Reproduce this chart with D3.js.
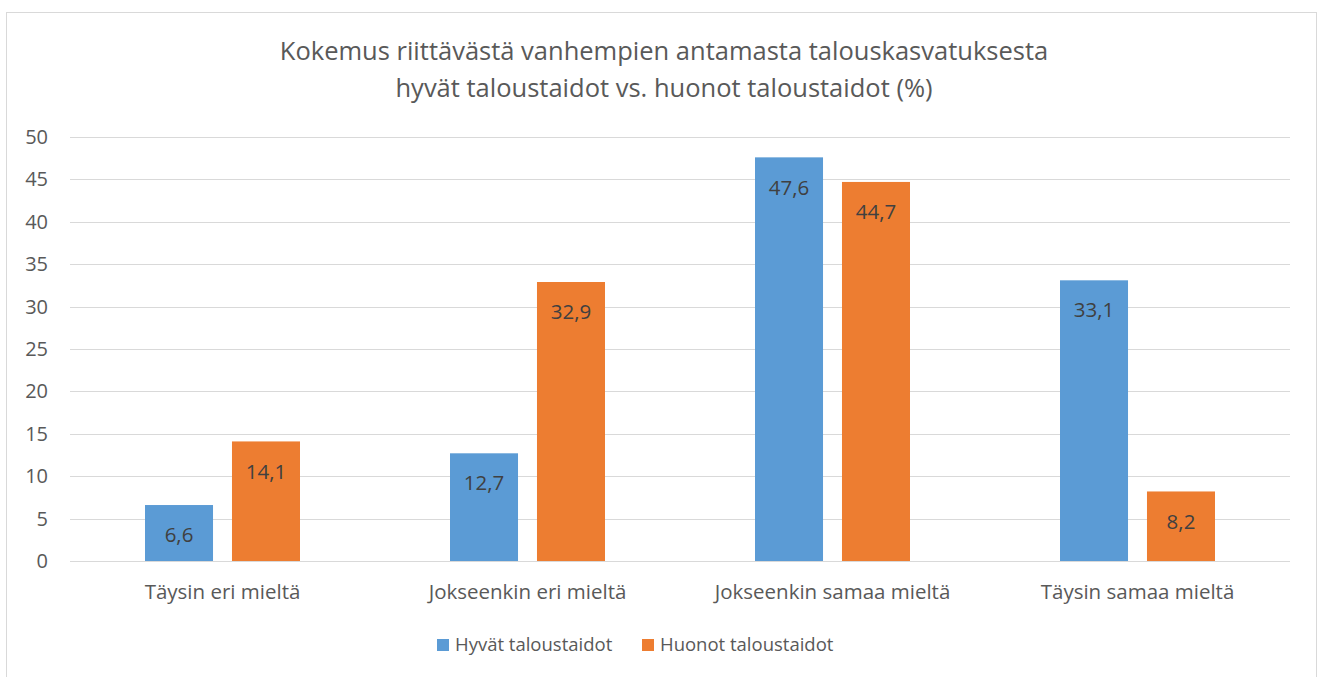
<!DOCTYPE html>
<html>
<head>
<meta charset="utf-8">
<script src="https://cdn.jsdelivr.net/npm/d3@7"></script>
<style>
  body { margin: 0; background: #fff; }
  text { font-family: "Open Sans", "Liberation Sans", sans-serif; fill: #595959; }
</style>
</head>
<body>
<div id="chart"></div>
<script>
var categories = ["Täysin eri mieltä", "Jokseenkin eri mieltä", "Jokseenkin samaa mieltä", "Täysin samaa mieltä"];
var series = ["Hyvät taloustaidot", "Huonot taloustaidot"];
var hyvat = [6.6, 12.7, 47.6, 33.1];
var huonot = [14.1, 32.9, 44.7, 8.2];
var yTicks = [0, 5, 10, 15, 20, 25, 30, 35, 40, 45, 50];
var colors = ["#5b9bd5", "#ed7d31"];
var titleLines = ["Kokemus riittävästä vanhempien antamasta talouskasvatuksesta",
                  "hyvät taloustaidot vs. huonot taloustaidot (%)"];

var W = 1322, H = 677;
var margin = {left: 70, right: 32, top: 137, bottom: 116};

var svg = d3.select("#chart").append("svg")
    .attr("width", W).attr("height", H);

// chart frame
svg.append("rect")
    .attr("x", 6.5).attr("y", 12.5)
    .attr("width", 1310).attr("height", 700)
    .attr("fill", "none").attr("stroke", "#d9d9d9");

var y = d3.scaleLinear().domain([0, 50]).range([H - margin.bottom, margin.top]);
var x0 = d3.scaleBand().domain(categories).range([margin.left, W - margin.right]).padding(0);
var groupW = 155;
var x1 = d3.scaleBand().domain(series)
    .range([(x0.bandwidth() - groupW) / 2, (x0.bandwidth() + groupW) / 2])
    .paddingInner(0.218).paddingOuter(0);

// gridlines
svg.append("g").selectAll("line")
    .data(yTicks)
  .enter().append("line")
    .attr("x1", margin.left).attr("x2", W - margin.right)
    .attr("y1", function(d) { return Math.round(y(d)) + 0.5; })
    .attr("y2", function(d) { return Math.round(y(d)) + 0.5; })
    .attr("stroke", "#d9d9d9").attr("stroke-width", 1);

// y tick labels
svg.append("g").selectAll("text")
    .data(yTicks)
  .enter().append("text")
    .attr("x", 48)
    .attr("y", function(d) { return y(d); })
    .attr("dy", ".35em")
    .style("text-anchor", "end")
    .style("font-size", "20px")
    .text(function(d) { return d; });

var rows = categories.map(function(c, i) {
  return {cat: c, vals: [hyvat[i], huonot[i]]};
});

var groups = svg.append("g").selectAll("g")
    .data(rows)
  .enter().append("g")
    .attr("transform", function(d) { return "translate(" + x0(d.cat) + ",0)"; });

var bars = groups.selectAll("g")
    .data(function(d) { return d.vals.map(function(v, j) { return {s: series[j], v: v, j: j}; }); })
  .enter().append("g");

bars.append("rect")
    .attr("x", function(d) { return x1(d.s); })
    .attr("width", x1.bandwidth())
    .attr("y", function(d) { return y(d.v); })
    .attr("height", function(d) { return y(0) - y(d.v); })
    .attr("fill", function(d) { return colors[d.j]; });

bars.append("text")
    .attr("x", function(d) { return x1(d.s) + x1.bandwidth() / 2; })
    .attr("y", function(d) { return y(d.v) + 30; })
    .attr("dy", ".35em")
    .style("text-anchor", "middle")
    .style("font-size", "20.5px")
    .style("fill", "#404040")
    .text(function(d) { return String(d.v).replace(".", ","); });

// category labels
svg.append("g").selectAll("text")
    .data(categories)
  .enter().append("text")
    .attr("x", function(d) { return x0(d) + x0.bandwidth() / 2; })
    .attr("y", 592)
    .attr("dy", ".35em")
    .style("text-anchor", "middle")
    .style("font-size", "20.5px")
    .text(function(d) { return d; });

// title
svg.append("g").selectAll("text")
    .data(titleLines)
  .enter().append("text")
    .attr("x", 664)
    .attr("y", function(d, i) { return 51 + i * 37; })
    .attr("dy", ".35em")
    .style("text-anchor", "middle")
    .style("font-size", "25.5px")
    .text(function(d) { return d; });

// legend
var legendX = [437, 642];
var legend = svg.append("g").selectAll("g")
    .data(series)
  .enter().append("g")
    .attr("transform", function(d, i) { return "translate(" + legendX[i] + ",639)"; });

legend.append("rect")
    .attr("width", 12).attr("height", 12)
    .attr("fill", function(d, i) { return colors[i]; });

legend.append("text")
    .attr("x", 18).attr("y", 6)
    .attr("dy", ".35em")
    .style("font-size", "18.5px")
    .text(function(d) { return d; });
</script>
</body>
</html>
